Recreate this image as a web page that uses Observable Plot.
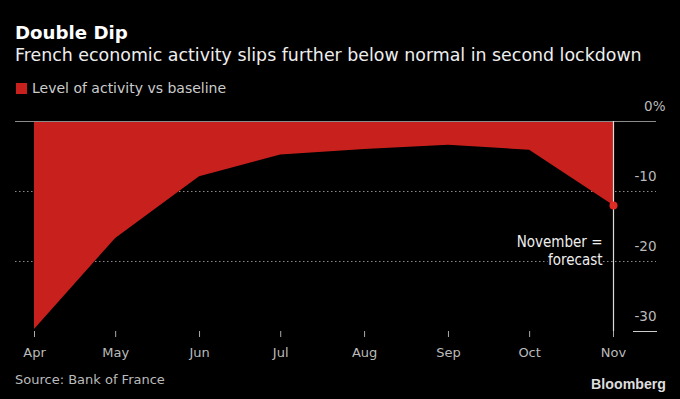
<!DOCTYPE html>
<html>
<head>
<meta charset="utf-8">
<script src="https://cdn.jsdelivr.net/npm/d3@7"></script>
<script src="https://cdn.jsdelivr.net/npm/@observablehq/plot@0.6"></script>
<style>
  html, body { margin: 0; padding: 0; background: #000; }
  body { width: 680px; height: 399px; position: relative; overflow: hidden;
         font-family: "DejaVu Sans", sans-serif; color: #ddd; }
  .abs { position: absolute; white-space: nowrap; line-height: 1; }
  #title { left: 15px; top: 23.8px; font-size: 18.2px; font-weight: bold; color: #fff; }
  #subtitle { left: 15px; top: 47px; font-size: 17.4px; color: #eee; }
  #legend { left: 16px; top: 81px; font-size: 14px; color: #ccc; display: flex; align-items: center; }
  #legend .sw { width: 11px; height: 11px; background: #c8211d; margin-right: 5px; }
  #chart { position: absolute; left: 0; top: 97px; }
  #source { left: 15px; top: 373px; font-size: 13px; color: #bbb; }
  #brand { right: 14px; top: 377px; font-size: 14.2px; font-weight: bold; color: #ddd;
           font-family: "Liberation Sans", Arial, sans-serif; }
</style>
</head>
<body>
<div id="title" class="abs">Double Dip</div>
<div id="subtitle" class="abs">French economic activity slips further below normal in second lockdown</div>
<div id="legend" class="abs"><span class="sw"></span><span>Level of activity vs baseline</span></div>
<div id="chart"></div>
<div id="source" class="abs">Source: Bank of France</div>
<div id="brand" class="abs">Bloomberg</div>
<script>
// ---- data ----
const months = ["2020-04-01", "2020-05-01", "2020-06-01", "2020-07-01", "2020-08-01", "2020-09-01", "2020-10-01", "2020-11-01"];
const activity = [-29.7, -16.7, -7.9, -4.8, -4.0, -3.4, -4.1, -12.0];
const yTicks = [0, -10, -20, -30];
const gridDotted = [-10, -20];
const forecastMonth = "2020-11-01";
const annotation = "November =\nforecast";

const parse = d3.utcParse("%Y-%m-%d");
const data = months.map((m, i) => ({date: parse(m), value: activity[i]}));
const tickDates = months.map(parse);
const novDate = parse(forecastMonth);
const novPoint = data.filter(d => +d.date === +novDate);

const red = "#c8211d";

const chart = Plot.plot({
  width: 680,
  height: 270,
  marginTop: 24,
  marginBottom: 36,
  marginLeft: 15,
  marginRight: 24,
  style: {background: "#000", color: "#bbb", fontFamily: "'DejaVu Sans', sans-serif", fontSize: "13px"},
  x: {type: "utc", domain: [tickDates[0], tickDates[tickDates.length - 1]], insetLeft: 19, insetRight: 43, label: null},
  y: {domain: [-30, 0], label: null},
  marks: [
    Plot.ruleY(gridDotted, {stroke: "#888", strokeDasharray: "1.5,2.5", strokeWidth: 1}),
    Plot.areaY(data, {x: "date", y: "value", fill: red}),
    Plot.ruleY([0], {stroke: "#8a8a8a", strokeWidth: 1}),
    Plot.ruleX([novDate], {y1: 0, y2: -30, stroke: "#ddd", strokeWidth: 1.2}),
    Plot.dot(novPoint, {x: "date", y: "value", r: 4, fill: "#e02a26", stroke: null}),
    Plot.text([annotation], {x: novDate, y: -17.3, text: d => d, textAnchor: "end", lineAnchor: "middle",
      dx: -11, dy: 8, lineHeight: 1.18, fill: "#eee", stroke: "#000", strokeWidth: 4, fontSize: 15,
      fontFamily: "'DejaVu Sans Condensed', 'DejaVu Sans', sans-serif"}),
    Plot.axisX({ticks: tickDates, tickFormat: d3.utcFormat("%b"), tickSize: 6, tickPadding: 10,
      stroke: "#aaa", fill: "#bbb", fontSize: 13, label: null}),
    Plot.axisY([0], {anchor: "right", tickSize: 0, tickPadding: 0, textAnchor: "end", dx: 9, dy: -15,
      tickFormat: d => d + "%", fill: "#bbb", fontSize: 13.5, label: null}),
    Plot.axisY(yTicks.slice(1), {anchor: "right", tickSize: 0, tickPadding: 0, textAnchor: "end", dy: -15,
      tickFormat: d => String(d), fill: "#bbb", fontSize: 13.5, label: null}),
    Plot.axisY([-30], {anchor: "right", tickSize: -24, text: null, stroke: "#ccc", label: null})
  ]
});
document.getElementById("chart").appendChild(chart);
</script>
</body>
</html>
